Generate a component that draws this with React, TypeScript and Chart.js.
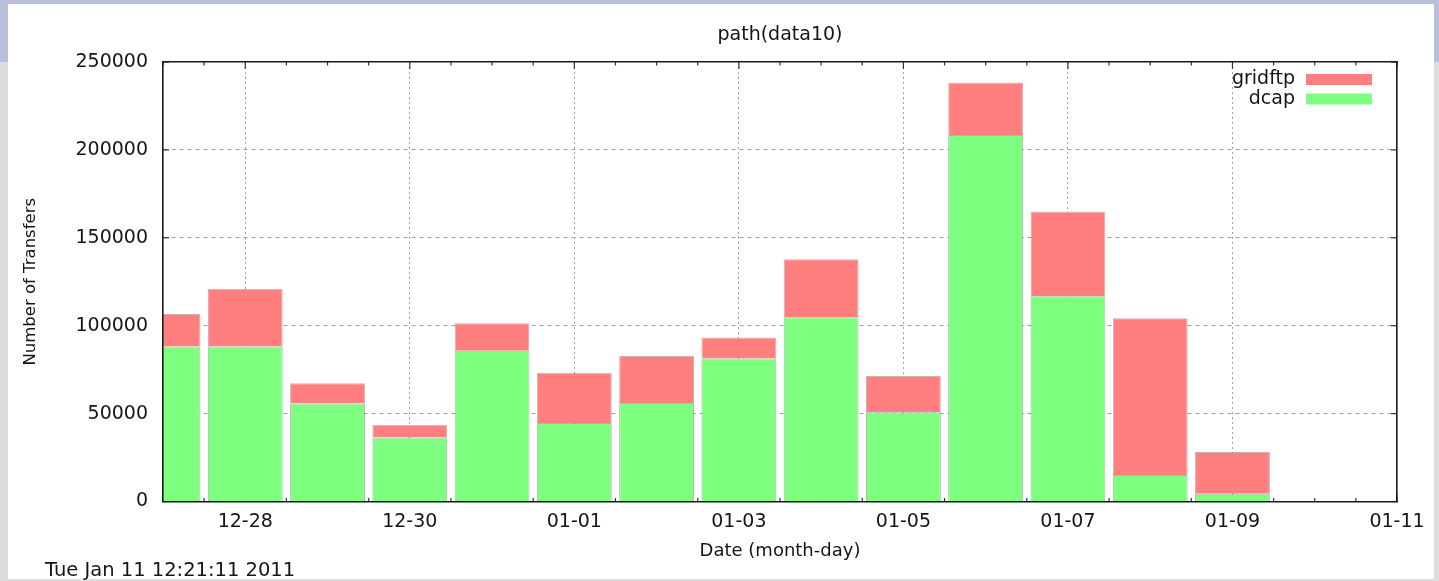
import { useEffect, useRef } from 'react';
import { Chart, registerables } from 'chart.js';

Chart.register(...registerables);
Chart.defaults.font.family = '"DejaVu Sans", "Liberation Sans", sans-serif';

// Day labels (month-day); bars are centred on each day
const dayLabels = ['12-27', '12-28', '12-29', '12-30', '12-31', '01-01', '01-02', '01-03', '01-04', '01-05', '01-06', '01-07', '01-08', '01-09', '01-10', '01-11'];
const dcapValues = [88200, 88200, 55700, 36400, 85700, 44700, 56100, 81300, 104800, 50800, 208500, 116800, 15100, 4400, 0, null];
const gridftpValues = [18500, 32800, 11600, 7300, 15700, 28600, 26700, 12000, 33000, 20600, 29900, 48100, 89100, 23700, 0, null];
const yMax = 250000;
const yStep = 50000;

const chartTitle = 'path(data10)';
const xAxisTitle = 'Date (month-day)';
const yAxisTitle = 'Number of Transfers';
const timestamp = 'Tue Jan 11 12:21:11 2011';

const RED = '#ff7f7f';
const GREEN = '#7fff7f';
const TEXT = '#151515';
const FRAME = '#1a1a1a';
const GRID = '#a0a0a0';
const TICK = '#333333';

const isMajorDay = (v: number) => Number.isInteger(v) && v % 2 === 1;

const legendPlugin = {
  id: 'gnuLegend',
  afterDraw(chart: any) {
    const { ctx, chartArea } = chart;
    const ds = chart.data.datasets.slice().reverse();
    ctx.save();
    ctx.font = '19px "DejaVu Sans"';
    ctx.textAlign = 'right';
    ctx.textBaseline = 'middle';
    const boxW = 66;
    const boxH = 11;
    const boxRight = chartArea.right - 25;
    ds.forEach((d: any, i: number) => {
      const cy = chartArea.top + 17.5 + i * 19.5;
      ctx.fillStyle = TEXT;
      ctx.fillText(d.label, boxRight - boxW - 11, cy);
      ctx.fillStyle = d.backgroundColor;
      ctx.fillRect(boxRight - boxW, cy - boxH / 2, boxW, boxH);
    });
    ctx.restore();
  },
};

// gnuplot-style inward tick marks on all four sides of the frame
const innerTicksPlugin = {
  id: 'innerTicks',
  beforeDatasetsDraw(chart: any) {
    const { ctx, chartArea: a } = chart;
    const line = (x1: number, y1: number, x2: number, y2: number) => {
      ctx.beginPath();
      ctx.moveTo(x1, y1);
      ctx.lineTo(x2, y2);
      ctx.stroke();
    };
    ctx.save();
    ctx.strokeStyle = TICK;
    ctx.lineWidth = 1.2;
    const xs = chart.scales.x;
    xs.ticks.forEach((t: any) => {
      const px = xs.getPixelForValue(t.value);
      const len = isMajorDay(t.value) ? 7 : 3.5;
      line(px, a.bottom, px, a.bottom - len);
      line(px, a.top, px, a.top + len);
    });
    const ys = chart.scales.y;
    ys.ticks.forEach((t: any) => {
      const py = ys.getPixelForValue(t.value);
      line(a.left, py, a.left + 6, py);
      line(a.right, py, a.right - 6, py);
    });
    ctx.restore();
  },
};

export default function App() {
  const ref = useRef<HTMLCanvasElement>(null);

  useEffect(() => {
    const canvas = ref.current;
    if (!canvas) return;
    const frameBorder = { display: true, color: FRAME, width: 1.6, z: 1 };
    const chart = new Chart(canvas, {
      type: 'bar',
      data: {
        datasets: [
          {
            label: 'dcap',
            data: dayLabels.map((_, i) => ({ x: i, y: dcapValues[i] })),
            backgroundColor: GREEN,
            borderColor: 'rgba(90,120,90,0.5)',
            borderWidth: 1,
            clip: 0,
          },
          {
            label: 'gridftp',
            data: dayLabels.map((_, i) => ({ x: i, y: gridftpValues[i] })),
            backgroundColor: RED,
            borderColor: 'rgba(150,80,80,0.45)',
            borderWidth: 1,
            clip: 0,
          },
        ],
      } as any,
      options: {
        animation: false,
        responsive: false,
        maintainAspectRatio: false,
        layout: { padding: 0 },
        plugins: {
          legend: { display: false },
          title: { display: false },
          tooltip: { enabled: false },
        },
        datasets: { bar: { categoryPercentage: 1, barPercentage: 1.82 } },
        scales: {
          x: {
            type: 'linear',
            position: 'bottom',
            min: 0,
            max: dayLabels.length - 1,
            offset: false,
            stacked: true,
            afterFit: (s: any) => { s.height = 79.5; },
            ticks: {
              stepSize: 0.5,
              autoSkip: false,
              maxRotation: 0,
              minRotation: 0,
              padding: 9,
              color: TEXT,
              font: { size: 19 },
              callback: (v: any) => (isMajorDay(v) ? dayLabels[v] : ''),
            },
            grid: {
              offset: false,
              drawTicks: false,
              color: (c: any) => (isMajorDay(c.tick.value) && c.tick.value < dayLabels.length - 1 ? GRID : 'rgba(0,0,0,0)'),
              lineWidth: 1,
            },
            border: { ...frameBorder, dash: [2, 3] },
            title: { display: true, text: xAxisTitle, color: TEXT, font: { size: 18 }, padding: { top: 0, bottom: 19 } },
          },
          xTop: {
            type: 'linear',
            position: 'top',
            min: 0,
            max: dayLabels.length - 1,
            offset: false,
            afterFit: (s: any) => { s.height = 62; },
            ticks: { display: false, stepSize: 1 },
            grid: { display: false, drawTicks: false },
            border: frameBorder,
            title: { display: true, text: chartTitle, color: TEXT, font: { size: 19 }, padding: { top: 24, bottom: 0 } },
          },
          y: {
            type: 'linear',
            position: 'left',
            min: 0,
            max: yMax,
            stacked: true,
            afterFit: (s: any) => { s.width = 163; },
            ticks: { stepSize: yStep, padding: 15, color: TEXT, font: { size: 19 }, callback: (v: any) => String(v) },
            grid: {
              drawTicks: false,
              color: (c: any) => (c.tick.value > 0 && c.tick.value < yMax ? GRID : 'rgba(0,0,0,0)'),
              lineWidth: 1,
            },
            border: { ...frameBorder, dash: [4, 4] },
            title: { display: true, text: yAxisTitle, color: TEXT, font: { size: 16.5 }, padding: { top: 21, bottom: 0 } },
          },
          yRight: {
            type: 'linear',
            position: 'right',
            min: 0,
            max: yMax,
            afterFit: (s: any) => { s.width = 42; },
            ticks: { display: false, stepSize: yStep },
            grid: { display: false, drawTicks: false },
            border: frameBorder,
          },
        },
      } as any,
      plugins: [legendPlugin, innerTicksPlugin],
    });
    return () => chart.destroy();
  }, []);

  return (
    <div
      style={{
        position: 'fixed',
        left: 0,
        top: 0,
        width: 1439,
        height: 581,
        overflow: 'hidden',
        background: 'linear-gradient(#b9bedb 0px, #b9bedb 62px, #dddddd 62px, #dddddd 100%)',
      }}
    >
      <div style={{ position: 'absolute', left: 8, top: 4, width: 1426, height: 575, background: '#ffffff' }} />
      <canvas ref={ref} width={1439} height={581} style={{ position: 'absolute', left: 0, top: 0, width: 1439, height: 581 }} />
      <div
        style={{
          position: 'absolute',
          left: 45,
          top: 558,
          font: '19.5px "DejaVu Sans"',
          lineHeight: '24px',
          color: TEXT,
          whiteSpace: 'nowrap',
        }}
      >
        {timestamp}
      </div>
    </div>
  );
}
